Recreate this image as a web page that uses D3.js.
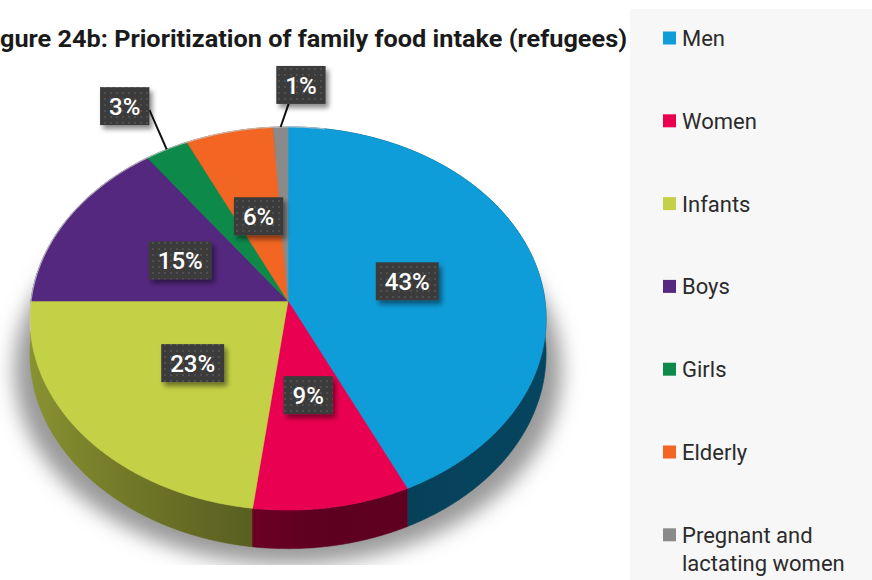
<!DOCTYPE html>
<html>
<head>
<meta charset="utf-8">
<script src="https://cdn.jsdelivr.net/npm/d3@7"></script>
<style>
  html, body { margin: 0; padding: 0; background: #ffffff; }
  svg { display: block; }
</style>
</head>
<body>
<svg id="chart" width="872" height="580"></svg>
<script>
// ---- data ----
const categories = ["Men", "Women", "Infants", "Boys", "Girls", "Elderly", "Pregnant and lactating women"];
const values = [43, 9, 23, 15, 3, 6, 1];
const colors = ["#0e9dd9", "#ea0050", "#c4d146", "#54287f", "#0d8a4a", "#f26522", "#8a8a8a"];
const titleText = "Figure 24b: Prioritization of family food intake (refugees)";

// ---- layout ----
const W = 872, H = 580;
const svg = d3.select("#chart");
const defs = svg.append("defs");

// perspective-tilted disc
const cx = 288, cy = 301, RX = 257, RY = 190, PERSP = 0.0914, DEPTH = 35;
function proj(a, r, z) {
  const w = r * Math.cos(a), u = r * Math.sin(a);
  const den = 1 + PERSP * w;
  return [cx + RX * u / den, cy - RY * w / den + z * DEPTH / den];
}
function arcPoints(a0, a1, r, z) {
  const n = Math.max(2, Math.ceil(Math.abs(a1 - a0) / (Math.PI / 240)));
  return d3.range(n + 1).map(i => proj(a0 + (a1 - a0) * i / n, r, z));
}

const slices = d3.pie().sort(null).value(d => d)(values);
const line = d3.line();

// ---- filters & patterns ----
const shadowBlur = defs.append("filter").attr("id", "pieShadow")
  .attr("x", "-20%").attr("y", "-20%").attr("width", "140%").attr("height", "140%");
shadowBlur.append("feGaussianBlur").attr("stdDeviation", 10);

defs.append("clipPath").attr("id", "shadowClip")
  .append("rect").attr("x", 0).attr("y", 0).attr("width", 620).attr("height", 565);

const boxShadow = defs.append("filter").attr("id", "boxShadow")
  .attr("x", "-30%").attr("y", "-30%").attr("width", "170%").attr("height", "170%");
boxShadow.append("feDropShadow").attr("dx", 3).attr("dy", 4).attr("stdDeviation", 2.5)
  .attr("flood-color", "#000").attr("flood-opacity", 0.45);

const dots = defs.append("pattern").attr("id", "dots")
  .attr("patternUnits", "userSpaceOnUse").attr("width", 6).attr("height", 6);
dots.append("rect").attr("width", 6).attr("height", 6).attr("fill", "#3b3b3b");
dots.append("circle").attr("cx", 3).attr("cy", 3).attr("r", 0.9).attr("fill", "#595959");

// wall shading: lit from the left, darker towards the lower right
const wallShade = d3.scaleLinear().domain([30, 250, 330, 545]).range([1.0, 2.2, 2.6, 2.3]).clamp(true);
slices.forEach((s, i) => {
  const g = defs.append("linearGradient").attr("id", "wall" + i)
    .attr("gradientUnits", "userSpaceOnUse")
    .attr("x1", 30).attr("y1", 0).attr("x2", 545).attr("y2", 0);
  d3.range(0, 1.0001, 0.05).forEach(t => {
    const x = 30 + t * 515;
    g.append("stop").attr("offset", t).attr("stop-color", d3.color(colors[i]).darker(wallShade(x)).formatHex());
  });
});

// ---- ground shadow ----
const outline = arcPoints(0, 2 * Math.PI, 1, 1).map(([x, y]) => [cx + (x - cx) * 1.06, y + 16]);
svg.append("g").attr("clip-path", "url(#shadowClip)")
  .append("path")
  .attr("d", line(outline) + "Z")
  .attr("fill", "#9a9a9a")
  .attr("filter", "url(#pieShadow)");

// ---- side walls (far first) ----
const wallOrder = slices.map((s, i) => ({ s, i }))
  .sort((a, b) => Math.cos((b.s.startAngle + b.s.endAngle) / 2) - Math.cos((a.s.startAngle + a.s.endAngle) / 2));
svg.append("g").selectAll("path").data(wallOrder).join("path")
  .attr("d", ({ s }) => {
    const top = arcPoints(s.startAngle, s.endAngle, 1, 0);
    const bottom = arcPoints(s.endAngle, s.startAngle, 1, 1);
    return line(top.concat(bottom)) + "Z";
  })
  .attr("fill", ({ i }) => `url(#wall${i})`)
  .attr("stroke", ({ i }) => `url(#wall${i})`)
  .attr("stroke-width", 0.6);

// ---- top faces ----
svg.append("g").selectAll("path").data(slices).join("path")
  .attr("d", s => line([[cx, cy]].concat(arcPoints(s.startAngle, s.endAngle, 1, 0))) + "Z")
  .attr("fill", (s, i) => colors[i])
  .attr("stroke", (s, i) => colors[i])
  .attr("stroke-width", 0.6);

// light rim round the upper edge
svg.append("path")
  .attr("d", line(arcPoints(Math.PI * 1.45, Math.PI * 2.05, 1, 0)))
  .attr("fill", "none")
  .attr("stroke", "#c9c9c9")
  .attr("stroke-width", 1.2)
  .attr("opacity", 0.8);

// ---- value labels ----
const innerR = 0.48;
const outerLayout = {
  "Girls": { r: 1.3, dx: -9, dy: -2, anchor: [1, 0.2] },
  "Pregnant and lactating women": { r: 1.25, dx: 22, dy: -3, anchor: [-0.5, 1] }
};
const labelG = svg.append("g");
slices.forEach((s, i) => {
  const mid = (s.startAngle + s.endAngle) / 2;
  const out = outerLayout[categories[i]];
  let pos;
  if (out) {
    const p = proj(mid, out.r, 0);
    pos = [p[0] + out.dx, p[1] + out.dy];
  } else {
    pos = proj(mid, innerR, 0);
  }
  const g = labelG.append("g");
  const txt = g.append("text")
    .attr("x", pos[0]).attr("y", pos[1]).attr("dy", "0.36em")
    .attr("text-anchor", "middle")
    .attr("font-family", "Roboto, 'Noto Sans', sans-serif")
    .attr("font-weight", 500)
    .attr("font-size", 24)
    .attr("fill", "#ffffff")
    .text(values[i] + "%");
  const tw = txt.node().getComputedTextLength();
  const bw = tw + 18, bh = 38;
  if (out) {
    const edge = proj(mid, 1, 0);
    const end = [pos[0] + out.anchor[0] * bw / 2, pos[1] + out.anchor[1] * bh / 2];
    g.insert("line", "text")
      .attr("x1", edge[0]).attr("y1", edge[1])
      .attr("x2", end[0]).attr("y2", end[1])
      .attr("stroke", "#111").attr("stroke-width", 2);
  }
  g.insert("rect", "text")
    .attr("x", pos[0] - bw / 2).attr("y", pos[1] - bh / 2)
    .attr("width", bw).attr("height", bh)
    .attr("fill", "url(#dots)")
    .attr("filter", "url(#boxShadow)");
});

// ---- title (left part runs off the page edge) ----
const title = svg.append("text")
  .attr("y", 47)
  .attr("font-family", "Roboto, 'Noto Sans', sans-serif")
  .attr("font-weight", 700)
  .attr("font-size", 23)
  .attr("fill", "#1a1a1a")
  .text(titleText);
const fullW = title.node().getComputedTextLength();
const hiddenW = title.node().getSubStringLength(0, 2);
const titleRight = 627;
const squeeze = titleRight / (fullW - hiddenW);
title.attr("textLength", fullW * squeeze)
  .attr("lengthAdjust", "spacingAndGlyphs")
  .attr("x", titleRight - fullW * squeeze);

// ---- legend ----
svg.append("rect").attr("x", 630).attr("y", 9).attr("width", W - 630).attr("height", H - 9).attr("fill", "#f7f7f7");
const legend = svg.append("g");
const legendX = 663, legendTop = 38, legendStep = 82.8, legendTextMax = W - 682 - 8;
categories.forEach((c, i) => {
  const yc = legendTop + i * legendStep;
  legend.append("rect").attr("x", legendX).attr("y", yc - 6.5).attr("width", 13).attr("height", 13).attr("fill", colors[i]);
  const t = legend.append("text")
    .attr("x", 682).attr("y", yc + 8)
    .attr("font-family", "Roboto, 'Noto Sans', sans-serif")
    .attr("font-size", 22)
    .attr("fill", "#2b2b2b");
  // wrap long names word by word
  const words = c.split(" ");
  let lineWords = [];
  let tspan = t.append("tspan").attr("x", 682).attr("dy", 0);
  words.forEach(wd => {
    lineWords.push(wd);
    tspan.text(lineWords.join(" "));
    if (tspan.node().getComputedTextLength() > legendTextMax && lineWords.length > 1) {
      lineWords.pop();
      tspan.text(lineWords.join(" "));
      lineWords = [wd];
      tspan = t.append("tspan").attr("x", 682).attr("dy", 28).text(wd);
    }
  });
});
</script>
</body>
</html>
